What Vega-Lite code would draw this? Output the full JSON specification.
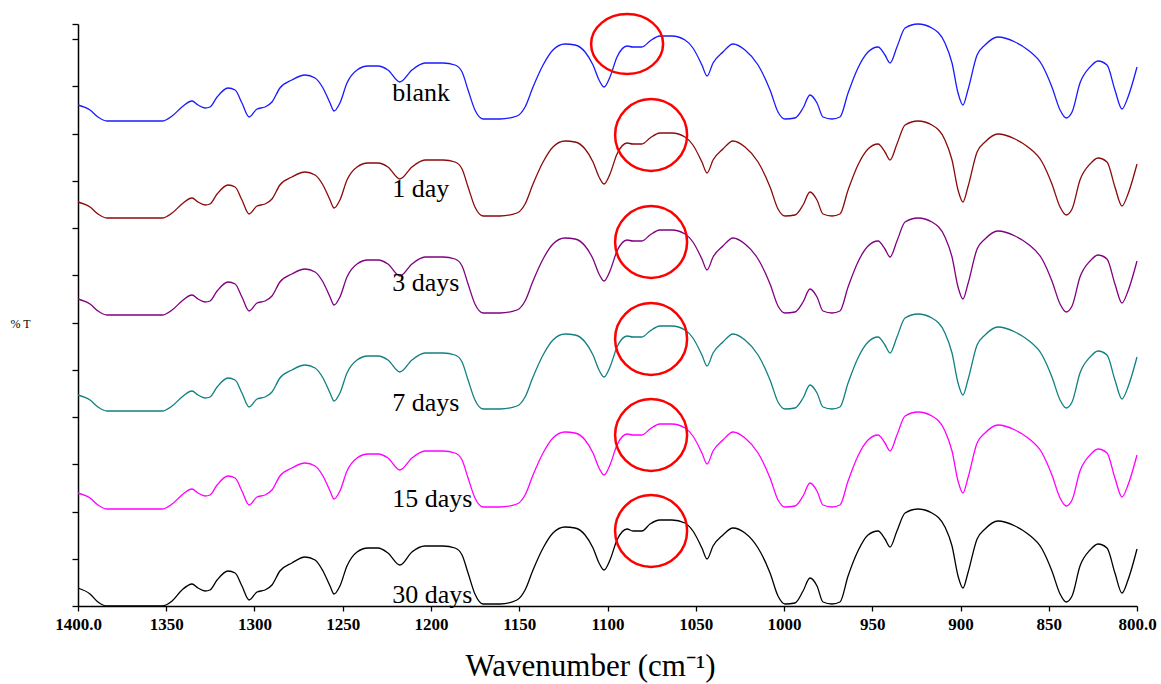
{
  "$schema": "https://vega.github.io/schema/vega-lite/v6.json",
  "width": 1059,
  "height": 582,
  "autosize": "none",
  "padding": {"left": 78, "top": 24, "right": 24, "bottom": 78},
  "background": "white",
  "config": {"view": {"stroke": null}},
  "datasets": {
    "spectra": [
      {"w":1400,"b":501,"d1":404,"d3":307,"d7":211,"d15":113,"d30":18},
      {"w":1393.2,"b":496,"d1":399,"d3":302,"d7":206,"d15":108,"d30":12},
      {"w":1388.7,"b":489,"d1":392,"d3":295,"d7":199,"d15":101,"d30":4},
      {"w":1383.6,"b":485,"d1":388,"d3":291,"d7":195,"d15":97,"d30":0},
      {"w":1352.4,"b":485,"d1":388,"d3":291,"d7":195,"d15":97,"d30":0},
      {"w":1346.7,"b":490,"d1":393,"d3":296,"d7":200,"d15":102,"d30":5},
      {"w":1341.1,"b":499,"d1":402,"d3":305,"d7":209,"d15":111,"d30":16},
      {"w":1335.4,"b":505,"d1":408,"d3":311,"d7":215,"d15":117,"d30":22},
      {"w":1332.0,"b":501,"d1":404,"d3":307,"d7":211,"d15":113,"d30":18},
      {"w":1328.0,"b":498,"d1":401,"d3":304,"d7":208,"d15":110,"d30":15},
      {"w":1325.2,"b":499,"d1":402,"d3":305,"d7":209,"d15":111,"d30":16},
      {"w":1321.2,"b":509,"d1":412,"d3":315,"d7":219,"d15":121,"d30":26},
      {"w":1315.0,"b":518,"d1":421,"d3":324,"d7":228,"d15":130,"d30":35},
      {"w":1311.0,"b":516,"d1":419,"d3":322,"d7":226,"d15":128,"d30":33},
      {"w":1307.1,"b":503,"d1":406,"d3":309,"d7":213,"d15":115,"d30":20},
      {"w":1303.1,"b":489,"d1":392,"d3":295,"d7":199,"d15":101,"d30":6},
      {"w":1298.6,"b":497,"d1":400,"d3":303,"d7":207,"d15":109,"d30":14},
      {"w":1294.1,"b":499,"d1":402,"d3":305,"d7":209,"d15":111,"d30":16},
      {"w":1290.1,"b":504,"d1":407,"d3":310,"d7":214,"d15":116,"d30":21},
      {"w":1285.6,"b":518,"d1":421,"d3":324,"d7":228,"d15":130,"d30":35},
      {"w":1278.8,"b":526,"d1":429,"d3":332,"d7":236,"d15":138,"d30":43},
      {"w":1271.4,"b":531,"d1":434,"d3":337,"d7":241,"d15":143,"d30":49},
      {"w":1265.7,"b":528,"d1":431,"d3":334,"d7":238,"d15":140,"d30":46},
      {"w":1261.2,"b":518,"d1":421,"d3":324,"d7":228,"d15":130,"d30":35},
      {"w":1257.2,"b":503,"d1":406,"d3":309,"d7":213,"d15":115,"d30":20},
      {"w":1254.9,"b":495,"d1":398,"d3":301,"d7":205,"d15":107,"d30":12},
      {"w":1251.6,"b":503,"d1":406,"d3":309,"d7":213,"d15":115,"d30":20},
      {"w":1247.6,"b":523,"d1":426,"d3":329,"d7":233,"d15":135,"d30":40},
      {"w":1241.9,"b":536,"d1":439,"d3":342,"d7":246,"d15":148,"d30":54},
      {"w":1235.7,"b":540,"d1":443,"d3":346,"d7":250,"d15":152,"d30":58},
      {"w":1230.0,"b":540,"d1":443,"d3":346,"d7":250,"d15":152,"d30":58},
      {"w":1224.4,"b":536,"d1":439,"d3":342,"d7":246,"d15":148,"d30":53},
      {"w":1217.6,"b":524,"d1":427,"d3":330,"d7":234,"d15":136,"d30":41},
      {"w":1210.8,"b":536,"d1":439,"d3":342,"d7":246,"d15":148,"d30":54},
      {"w":1203.4,"b":543,"d1":446,"d3":349,"d7":253,"d15":155,"d30":60},
      {"w":1193.2,"b":543,"d1":446,"d3":349,"d7":253,"d15":155,"d30":60},
      {"w":1186.4,"b":541,"d1":444,"d3":347,"d7":251,"d15":153,"d30":58},
      {"w":1182.4,"b":534,"d1":437,"d3":340,"d7":244,"d15":146,"d30":51},
      {"w":1179.0,"b":516,"d1":419,"d3":322,"d7":226,"d15":128,"d30":33},
      {"w":1175.1,"b":496,"d1":399,"d3":302,"d7":206,"d15":108,"d30":12},
      {"w":1170.5,"b":487,"d1":390,"d3":293,"d7":197,"d15":99,"d30":2},
      {"w":1160.9,"b":487,"d1":390,"d3":293,"d7":197,"d15":99,"d30":2},
      {"w":1151.3,"b":490,"d1":393,"d3":296,"d7":200,"d15":102,"d30":6},
      {"w":1146.7,"b":499,"d1":402,"d3":305,"d7":209,"d15":111,"d30":16},
      {"w":1142.2,"b":519,"d1":422,"d3":325,"d7":229,"d15":131,"d30":36},
      {"w":1136.5,"b":541,"d1":444,"d3":347,"d7":251,"d15":153,"d30":58},
      {"w":1130.9,"b":556,"d1":459,"d3":362,"d7":266,"d15":168,"d30":73},
      {"w":1124.1,"b":562,"d1":465,"d3":368,"d7":272,"d15":174,"d30":79},
      {"w":1118.4,"b":561,"d1":464,"d3":367,"d7":271,"d15":173,"d30":78},
      {"w":1112.7,"b":554,"d1":457,"d3":360,"d7":264,"d15":166,"d30":71},
      {"w":1108.2,"b":541,"d1":444,"d3":347,"d7":251,"d15":153,"d30":58},
      {"w":1104.8,"b":526,"d1":429,"d3":332,"d7":236,"d15":138,"d30":43},
      {"w":1102.0,"b":519,"d1":422,"d3":325,"d7":229,"d15":131,"d30":36},
      {"w":1098.6,"b":529,"d1":432,"d3":335,"d7":239,"d15":141,"d30":46},
      {"w":1094.6,"b":549,"d1":452,"d3":355,"d7":259,"d15":161,"d30":66},
      {"w":1088.9,"b":560,"d1":463,"d3":366,"d7":270,"d15":172,"d30":77},
      {"w":1085.6,"b":559,"d1":462,"d3":365,"d7":269,"d15":171,"d30":75},
      {"w":1080.5,"b":559,"d1":462,"d3":365,"d7":269,"d15":171,"d30":75},
      {"w":1075.9,"b":565,"d1":468,"d3":371,"d7":275,"d15":177,"d30":82},
      {"w":1070.3,"b":570,"d1":473,"d3":376,"d7":280,"d15":182,"d30":86},
      {"w":1063.5,"b":570,"d1":473,"d3":376,"d7":280,"d15":182,"d30":86},
      {"w":1056.1,"b":566,"d1":469,"d3":372,"d7":276,"d15":178,"d30":83},
      {"w":1051.6,"b":558,"d1":461,"d3":364,"d7":268,"d15":170,"d30":75},
      {"w":1046.5,"b":541,"d1":444,"d3":347,"d7":251,"d15":153,"d30":58},
      {"w":1043.6,"b":530,"d1":433,"d3":336,"d7":240,"d15":142,"d30":47},
      {"w":1040.2,"b":543,"d1":446,"d3":349,"d7":253,"d15":155,"d30":60},
      {"w":1034.6,"b":554,"d1":457,"d3":360,"d7":264,"d15":166,"d30":71},
      {"w":1028.9,"b":562,"d1":465,"d3":368,"d7":272,"d15":174,"d30":78},
      {"w":1022.1,"b":556,"d1":459,"d3":362,"d7":266,"d15":168,"d30":73},
      {"w":1014.7,"b":541,"d1":444,"d3":347,"d7":251,"d15":153,"d30":58},
      {"w":1007.9,"b":516,"d1":419,"d3":322,"d7":226,"d15":128,"d30":33},
      {"w":1003.4,"b":494,"d1":397,"d3":300,"d7":204,"d15":106,"d30":10},
      {"w":999.4,"b":487,"d1":390,"d3":293,"d7":197,"d15":99,"d30":2},
      {"w":993.8,"b":488,"d1":391,"d3":294,"d7":198,"d15":100,"d30":3},
      {"w":989.2,"b":498,"d1":401,"d3":304,"d7":208,"d15":110,"d30":15},
      {"w":985.3,"b":511,"d1":414,"d3":317,"d7":221,"d15":123,"d30":28},
      {"w":981.3,"b":503,"d1":406,"d3":309,"d7":213,"d15":115,"d30":20},
      {"w":977.9,"b":489,"d1":392,"d3":295,"d7":199,"d15":101,"d30":4},
      {"w":972.8,"b":487,"d1":390,"d3":293,"d7":197,"d15":99,"d30":2},
      {"w":968.3,"b":489,"d1":392,"d3":295,"d7":199,"d15":101,"d30":4},
      {"w":963.7,"b":513,"d1":416,"d3":319,"d7":223,"d15":125,"d30":30},
      {"w":958.1,"b":538,"d1":441,"d3":344,"d7":248,"d15":150,"d30":55},
      {"w":952.4,"b":554,"d1":457,"d3":360,"d7":264,"d15":166,"d30":71},
      {"w":946.7,"b":559,"d1":462,"d3":365,"d7":269,"d15":171,"d30":75},
      {"w":942.8,"b":551,"d1":454,"d3":357,"d7":261,"d15":163,"d30":67},
      {"w":939.9,"b":543,"d1":446,"d3":349,"d7":253,"d15":155,"d30":59},
      {"w":936.0,"b":559,"d1":462,"d3":365,"d7":269,"d15":171,"d30":75},
      {"w":931.4,"b":578,"d1":481,"d3":384,"d7":288,"d15":190,"d30":93},
      {"w":924.1,"b":582,"d1":485,"d3":388,"d7":292,"d15":194,"d30":97},
      {"w":916.2,"b":578,"d1":481,"d3":384,"d7":288,"d15":190,"d30":93},
      {"w":908.8,"b":563,"d1":466,"d3":369,"d7":273,"d15":175,"d30":79},
      {"w":904.8,"b":543,"d1":446,"d3":349,"d7":253,"d15":155,"d30":60},
      {"w":901.4,"b":513,"d1":416,"d3":319,"d7":223,"d15":125,"d30":30},
      {"w":898.6,"b":501,"d1":404,"d3":307,"d7":211,"d15":113,"d30":18},
      {"w":895.8,"b":516,"d1":419,"d3":322,"d7":226,"d15":128,"d30":33},
      {"w":890.6,"b":551,"d1":454,"d3":357,"d7":261,"d15":163,"d30":67},
      {"w":886.1,"b":561,"d1":464,"d3":367,"d7":271,"d15":173,"d30":77},
      {"w":878.8,"b":569,"d1":472,"d3":375,"d7":279,"d15":181,"d30":85},
      {"w":869.1,"b":564,"d1":467,"d3":370,"d7":274,"d15":176,"d30":80},
      {"w":861.8,"b":556,"d1":459,"d3":362,"d7":266,"d15":168,"d30":72},
      {"w":853.8,"b":541,"d1":444,"d3":347,"d7":251,"d15":153,"d30":57},
      {"w":848.2,"b":519,"d1":422,"d3":325,"d7":229,"d15":131,"d30":35},
      {"w":843.6,"b":496,"d1":399,"d3":302,"d7":206,"d15":108,"d30":12},
      {"w":840.2,"b":488,"d1":391,"d3":294,"d7":198,"d15":100,"d30":4},
      {"w":836.8,"b":494,"d1":397,"d3":300,"d7":204,"d15":106,"d30":10},
      {"w":832.3,"b":523,"d1":426,"d3":329,"d7":233,"d15":135,"d30":40},
      {"w":826.6,"b":539,"d1":442,"d3":345,"d7":249,"d15":151,"d30":56},
      {"w":822.1,"b":545,"d1":448,"d3":351,"d7":255,"d15":157,"d30":62},
      {"w":817.0,"b":541,"d1":444,"d3":347,"d7":251,"d15":153,"d30":58},
      {"w":812.5,"b":516,"d1":419,"d3":322,"d7":226,"d15":128,"d30":33},
      {"w":808.5,"b":497,"d1":400,"d3":303,"d7":207,"d15":109,"d30":13},
      {"w":805.1,"b":509,"d1":412,"d3":315,"d7":219,"d15":121,"d30":26},
      {"w":800.0,"b":539,"d1":442,"d3":345,"d7":249,"d15":151,"d30":57}
    ],
    "labels": [
      {"w":1222,"v":505,"t":"blank"},
      {"w":1222,"v":409,"t":"1 day"},
      {"w":1222,"v":315,"t":"3 days"},
      {"w":1222,"v":195,"t":"7 days"},
      {"w":1222,"v":99,"t":"15 days"},
      {"w":1222,"v":3,"t":"30 days"}
    ],
    "rings": [
      {"w":1088.9,"v":562,"s":"blank"},
      {"w":1075.3,"v":471,"s":"1 day"},
      {"w":1075.3,"v":364,"s":"3 days"},
      {"w":1075.3,"v":267,"s":"7 days"},
      {"w":1075.3,"v":171,"s":"15 days"},
      {"w":1075.3,"v":75,"s":"30 days"}
    ]
  },
  "layer": [
    {
      "data": {"name": "spectra"},
      "transform": [{"fold": ["b","d1","d3","d7","d15","d30"], "as": ["k","v"]}],
      "mark": {"type": "line", "interpolate": "monotone", "strokeWidth": 1.3, "clip": false},
      "encoding": {
        "x": {
          "field": "w", "type": "quantitative",
          "scale": {"domain": [800, 1400], "reverse": true, "nice": false, "zero": false},
          "axis": {
            "values": [1400,1350,1300,1250,1200,1150,1100,1050,1000,950,900,850,800],
            "labelExpr": "datum.value == 1400 || datum.value == 800 ? format(datum.value, '.1f') : format(datum.value, 'd')",
            "labelFlush": false, "labelOverlap": false,
            "labelFont": "Liberation Serif", "labelFontWeight": "bold", "labelFontSize": 17, "labelColor": "black",
            "labelPadding": 5,
            "tickColor": "black", "tickSize": 5, "tickWidth": 1.3,
            "domainColor": "black", "domainWidth": 1.5,
            "grid": false,
            "title": "Wavenumber (cm⁻¹)",
            "titleFont": "Liberation Serif", "titleFontWeight": "normal", "titleFontSize": 31, "titleColor": "black",
            "titleAlign": "center", "titleBaseline": "alphabetic",
            "titleX": 512, "titleY": 69
          }
        },
        "y": {
          "field": "v", "type": "quantitative",
          "scale": {"domain": [0, 582], "nice": false, "zero": false},
          "axis": {
            "values": [0,47.25,94.5,141.75,189,236.25,283.5,330.75,378,425.25,472.5,519.75,567,582],
            "labels": false,
            "tickColor": "black", "tickSize": 6, "tickWidth": 1.3,
            "domainColor": "black", "domainWidth": 1.5,
            "grid": false,
            "title": "% T",
            "titleFont": "Liberation Serif", "titleFontWeight": "normal", "titleFontSize": 12, "titleColor": "black",
            "titleAngle": 0, "titleAlign": "left", "titleBaseline": "middle",
            "titleX": -68, "titleY": 299
          }
        },
        "color": {
          "field": "k", "type": "nominal",
          "scale": {"domain": ["b","d1","d3","d7","d15","d30"], "range": ["#1a1aff","#8b0a0a","#800080","#108080","#ff00ff","#000000"]},
          "legend": null
        }
      }
    },
    {
      "data": {"name": "labels"},
      "mark": {"type": "text", "font": "Liberation Serif", "fontSize": 26, "align": "left", "baseline": "alphabetic", "color": "black"},
      "encoding": {
        "x": {"field": "w", "type": "quantitative"},
        "y": {"field": "v", "type": "quantitative"},
        "text": {"field": "t"}
      }
    },
    {
      "data": {"name": "rings"},
      "transform": [{"filter": "datum.s == 'blank'"}],
      "mark": {"type": "point", "shape": "M-1,0A1,0.83,0,1,1,1,0A1,0.83,0,1,1,-1,0Z", "size": 5184, "filled": false, "stroke": "#ff0000", "strokeWidth": 2.5, "opacity": 1},
      "encoding": {
        "x": {"field": "w", "type": "quantitative"},
        "y": {"field": "v", "type": "quantitative"}
      }
    },
    {
      "data": {"name": "rings"},
      "transform": [{"filter": "datum.s != 'blank'"}],
      "mark": {"type": "point", "shape": "circle", "size": 5184, "filled": false, "stroke": "#ff0000", "strokeWidth": 2.5, "opacity": 1},
      "encoding": {
        "x": {"field": "w", "type": "quantitative"},
        "y": {"field": "v", "type": "quantitative"}
      }
    }
  ]
}
